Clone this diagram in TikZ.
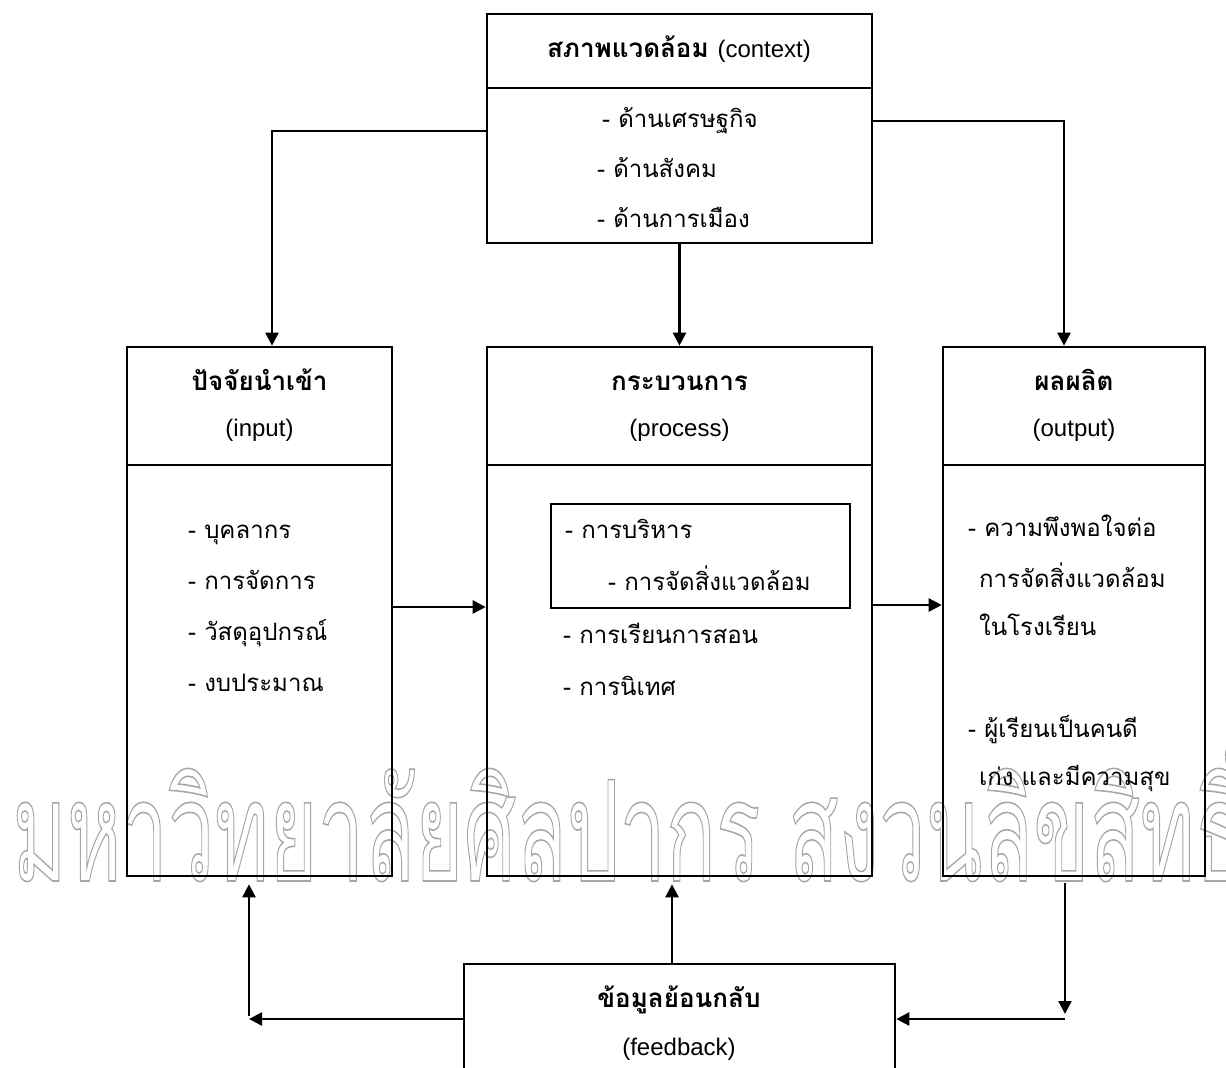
\documentclass[tikz,border=0pt]{standalone}
\usepackage{fontspec}
\setmainfont{Liberation Sans}
\newfontfamily\thaifont[Script=Thai]{Loma}
\usetikzlibrary{shapes, arrows.meta, calc, positioning}

\begin{document}
\begin{tikzpicture}[x=1pt, y=-1pt, >={Triangle[length=13pt,width=13pt]}]
    \tikzstyle{block} = [draw, line width=2.6pt, rectangle, inner sep=0pt]
    \tikzstyle{divider} = [line width=2pt]
    \tikzstyle{conn} = [line width=2.4pt]
    \tikzstyle{head} = [font=\fontsize{26}{30}\selectfont\thaifont\bfseries,
	anchor=base, inner sep=0pt]
    \tikzstyle{sub} = [font=\fontsize{24}{28}\selectfont, anchor=base,
	inner sep=0pt]
    \tikzstyle{item} = [font=\fontsize{24}{28}\selectfont\thaifont,
	anchor=base west, inner sep=0pt]

    \useasboundingbox (0,0) rectangle (1226,1068);
    \clip (0,0) rectangle (1226,1068);

    % watermark, outlined letters
    \node[text=black!35, line width=0.8pt, anchor=base west, inner sep=0pt] (mark) at (12,881)
	{\special{pdf:literal direct 1 Tr}\scalebox{1.15}[1.95]{\fontsize{72}{80}\selectfont\thaifont มหาวิทยาลัยศิลปากร สงวนลิขสิทธิ์}\special{pdf:literal direct 0 Tr}};

		\path
			node[block, minimum width=385pt, minimum height=229pt] (ctx) at (679.5,128.5) {}
			node[block, minimum width=265pt, minimum height=529pt] (inp) at (259.5,611.5) {}
			node[block, minimum width=385pt, minimum height=529pt] (proc) at (679.5,611.5) {}
			node[block, minimum width=262pt, minimum height=529pt] (outp) at (1074,611.5) {}
			node[block, line width=2.2pt, minimum width=299pt, minimum height=104pt] (admin) at (700.5,556) {}
			node[block, minimum width=431pt, minimum height=110pt] (fb) at (679.5,1019) {}
		;

		\draw[divider] (ctx.west |- 0,88) -- (ctx.east |- 0,88);
		\draw[divider] (inp.west |- 0,465) -- (inp.east |- 0,465);
		\draw[divider] (proc.west |- 0,465) -- (proc.east |- 0,465);
		\draw[divider] (outp.west |- 0,465) -- (outp.east |- 0,465);

		% context
		\node[head] (ctxhead) at (679,57) {สภาพแวดล้อม {\normalfont\fontsize{24}{28}\selectfont (context)}};
		\node[item] (ctx1) at (602,127) {- ด้านเศรษฐกิจ};
		\node[item] (ctx2) at (597,177) {- ด้านสังคม};
		\node[item] (ctx3) at (597,227) {- ด้านการเมือง};

		% input
		\node[head] (inphead) at (259.5,390) {ปัจจัยนำเข้า};
		\node[sub] (inpsub) at (259.5,436) {(input)};
		\node[item] (inp1) at (188,538) {- บุคลากร};
		\node[item] (inp2) at (188,589) {- การจัดการ};
		\node[item] (inp3) at (188,640) {- วัสดุอุปกรณ์};
		\node[item] (inp4) at (188,691) {- งบประมาณ};

		% process
		\node[head] (prochead) at (679.5,390) {กระบวนการ};
		\node[sub] (procsub) at (679.5,436) {(process)};
		\node[item] (proc1) at (565,538) {- การบริหาร};
		\node[item] (proc2) at (608,590) {- การจัดสิ่งแวดล้อม};
		\node[item] (proc3) at (563,643) {- การเรียนการสอน};
		\node[item] (proc4) at (563,695) {- การนิเทศ};

		% output
		\node[head] (outphead) at (1074,390) {ผลผลิต};
		\node[sub] (outpsub) at (1074,436) {(output)};
		\node[item] (outp1) at (968,536) {- ความพึงพอใจต่อ};
		\node[item] (outp2) at (979,587) {การจัดสิ่งแวดล้อม};
		\node[item] (outp3) at (979,635) {ในโรงเรียน};
		\node[item] (outp4) at (968,737) {- ผู้เรียนเป็นคนดี};
		\node[item] (outp5) at (979,785) {เก่ง และมีความสุข};

		% feedback
		\node[head] (fbhead) at (679,1007) {ข้อมูลย้อนกลับ};
		\node[sub] (fbsub) at (679,1055) {(feedback)};

		\coordinate (fbl) at (249,1016);
		\coordinate (fbr) at (1065,1014);

		\draw[conn, ->] ([yshift=-2.5pt]ctx.west) -| ([xshift=12.5pt]inp.north);
		\draw[conn, ->] ([yshift=7.5pt]ctx.east) -| ([xshift=-10pt]outp.north);
		\draw[conn, ->] (ctx.south) -- (proc.north);
		\draw[conn, ->] ([yshift=4.5pt]inp.east) -- ([yshift=4.5pt]proc.west);
		\draw[conn, ->] ([yshift=6.5pt]proc.east) -- ([yshift=6.5pt]outp.west);
		\draw[conn, ->, shorten >=7pt] ([xshift=-7.5pt]fb.north) -- ([xshift=-7.5pt]fb.north |- proc.south);
		\draw[conn, ->] (fb.west) -- (fb.west -| fbl);
		\draw[conn, ->, shorten >=7pt] (fbl) -- (fbl |- inp.south);
		\draw[conn, ->, shorten <=6pt] (fbr |- outp.south) -- (fbr);
		\draw[conn, ->] (fbr |- fb.east) -- (fb.east);

\end{tikzpicture}
\end{document}
